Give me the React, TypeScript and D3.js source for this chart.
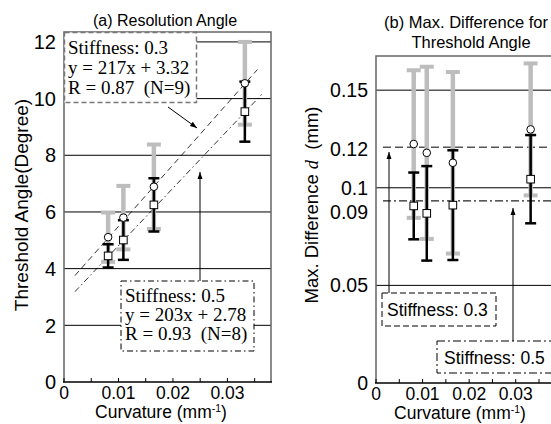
import React from 'react'
import { scaleLinear, range, mean } from 'd3'

// curvature of the four test shapes (mm^-1)
const curvature = [0.0081, 0.0109, 0.0165, 0.0332]

// (a) threshold angle, degrees
const angleMean03 = [5.11, 5.8, 6.89, 10.54]
const angleSd03 = [0.87, 1.12, 1.49, 1.46]
const angleMean05 = [4.45, 5.01, 6.25, 9.54]
const angleSd05 = [0.41, 0.7, 0.94, 1.06]

// (b) max difference d, mm
const diffMean03 = [0.1224, 0.1179, 0.1128, 0.1299]
const diffSd03 = [0.0378, 0.0441, 0.0465, 0.0338]
const diffMean05 = [0.0907, 0.0869, 0.0911, 0.1044]
const diffSd05 = [0.0171, 0.0242, 0.0281, 0.0226]

// regression fits shown in (a)
const fit03 = { slope: 217, intercept: 3.32, from: 0.002, to: 0.0355 }
const fit05 = { slope: 203, intercept: 2.78, from: 0.002, to: 0.0363 }

const angleTicks = [0, 2, 4, 6, 8, 10, 12]
const diffTicks = [0, 0.05, 0.09, 0.1, 0.12, 0.15]
const diffTickLabels = ['0', '0.05', '0.09', '0.1', '0.12', '0.15']
const diffGrid = [0.05, 0.1, 0.15]
const curvTicks = [0, 0.01, 0.02, 0.03]
const curvTickLabels = ['0', '0.01', '0.02', '0.03']

const sans = 'Arial, "Liberation Sans", Helvetica, sans-serif'
const serif = '"Times New Roman", "Liberation Serif", serif'
const GRAY = '#bdbdbd'
const NB = '\u00a0'

function ErrBar({ x, y0, y1, cap, w, color, capW }) {
  return (
    <g stroke={color}>
      <line x1={x} x2={x} y1={y0} y2={y1} strokeWidth={w} />
      <line x1={x - cap / 2} x2={x + cap / 2} y1={y0} y2={y0} strokeWidth={capW} />
      <line x1={x - cap / 2} x2={x + cap / 2} y1={y1} y2={y1} strokeWidth={capW} />
    </g>
  )
}

function Arrow({ x1, y1, x2, y2 }) {
  const a = Math.atan2(y2 - y1, x2 - x1)
  const L = 7, W = 2.5
  const p = [
    [x2, y2],
    [x2 - L * Math.cos(a) + W * Math.sin(a), y2 - L * Math.sin(a) - W * Math.cos(a)],
    [x2 - L * Math.cos(a) - W * Math.sin(a), y2 - L * Math.sin(a) + W * Math.cos(a)],
  ]
  return (
    <g>
      <line x1={x1} y1={y1} x2={x2} y2={y2} stroke="#000" strokeWidth={1} />
      <polygon points={p.map(d => d.join(',')).join(' ')} fill="#000" />
    </g>
  )
}

export default function App() {
  const width = 551
  const height = 424

  const xL = scaleLinear().domain([0, 0.038]).range([64, 271])
  const yL = scaleLinear().domain([0, 12.35]).range([382, 32])
  const xR = scaleLinear().domain([0, 0.038]).range([376, 553])
  const yR = scaleLinear().domain([0, 0.1675]).range([383, 56])

  const minorTicks = range(0, 0.0376, 0.005)
  const avg03 = mean(diffMean03)
  const avg05 = mean(diffMean05)

  return (
    <div style={{ position: 'absolute', left: 0, top: 0 }}>
      <svg width={width} height={height} style={{ display: 'block', background: '#fff' }}>
        {/* ---------- (a) ---------- */}
        <text x={165} y={26} fontFamily={sans} fontSize={16} textAnchor="middle">(a) Resolution Angle</text>
        {angleTicks.filter(t => t > 0).map(t => (
          <line key={t} x1={xL(0)} x2={xL(0.038)} y1={yL(t)} y2={yL(t)} stroke="#000" strokeWidth={1} />
        ))}
        <path d={`M${xL(0)},${yL(0)}V${yL(12.35)}H${xL(0.038)}V${yL(0)}`} fill="none" stroke="#666" strokeWidth={1.5} />
        <line x1={xL(0) - 1} x2={xL(0.038) + 1} y1={yL(0)} y2={yL(0)} stroke="#000" strokeWidth={1.5} />
        {minorTicks.map(t => (
          <line key={t} x1={xL(t)} x2={xL(t)} y1={yL(0)} y2={yL(0) - 4} stroke="#000" />
        ))}
        {angleTicks.map(t => (
          <text key={t} x={56} y={yL(t)} dy="0.36em" fontFamily={sans} fontSize={20} textAnchor="end">{t}</text>
        ))}
        {curvTicks.map((t, i) => (
          <text key={t} x={xL(t)} y={399} fontFamily={sans} fontSize={17.5} textAnchor="middle">{curvTickLabels[i]}</text>
        ))}
        <text x={161} y={418} fontFamily={sans} fontSize={17.5} textAnchor="middle">
          Curvature (mm<tspan fontSize={10.5} dy={-6}>-1</tspan><tspan dy={6}>)</tspan>
        </text>
        <text transform="translate(28,205) rotate(-90)" fontFamily={sans} fontSize={19} textAnchor="middle">Threshold Angle(Degree)</text>

        {/* fits */}
        {[fit03, fit05].map((f, i) => (
          <line key={i}
            x1={xL(f.from)} y1={yL(f.slope * f.from + f.intercept)}
            x2={xL(f.to)} y2={yL(f.slope * f.to + f.intercept)}
            stroke="#000" strokeWidth={0.8}
            strokeDasharray={i === 0 ? '6,4' : '6,3,1.5,3'} />
        ))}

        {/* error bars */}
        {curvature.map((c, i) => (
          <ErrBar key={'g' + i} x={xL(c)} y0={yL(angleMean03[i] + angleSd03[i])} y1={yL(angleMean03[i] - angleSd03[i])}
            cap={14} w={4.5} capW={4} color={GRAY} />
        ))}
        {curvature.map((c, i) => (
          <ErrBar key={'b' + i} x={xL(c)} y0={yL(angleMean05[i] + angleSd05[i])} y1={yL(angleMean05[i] - angleSd05[i])}
            cap={11} w={2.5} capW={2.5} color="#000" />
        ))}
        {curvature.map((c, i) => (
          <rect key={'s' + i} x={xL(c) - 3.8} y={yL(angleMean05[i]) - 3.8} width={7.6} height={7.6} fill="#fff" stroke="#000" strokeWidth={1} />
        ))}
        {curvature.map((c, i) => (
          <circle key={'c' + i} cx={xL(c)} cy={yL(angleMean03[i])} r={3.8} fill="#fff" stroke="#000" strokeWidth={1} />
        ))}

        {/* annotation boxes */}
        <rect x={64.5} y={32.5} width={132} height={70} fill="#fff" stroke="#777" strokeWidth={1.5} strokeDasharray="5,3" />
        <g fontFamily={serif} fontSize={19}>
          <text x={68} y={54}>Stiffness: 0.3</text>
          <text x={68} y={74}>y = 217x + 3.32</text>
          <text x={68} y={94}>{'R = 0.87 ' + NB + '(N=9)'}</text>
        </g>
        <Arrow x1={168} y1={107} x2={197} y2={128} />

        <rect x={121} y={281} width={133} height={70} fill="#fff" stroke="#000" strokeWidth={1} strokeDasharray="6,3,1.5,3" />
        <g fontFamily={serif} fontSize={19}>
          <text x={125} y={302}>Stiffness: 0.5</text>
          <text x={125} y={321}>y = 203x + 2.78</text>
          <text x={125} y={340}>{'R = 0.93 ' + NB + '(N=8)'}</text>
        </g>
        <Arrow x1={200} y1={281} x2={200} y2={172} />

        {/* ---------- (b) ---------- */}
        <text x={466} y={28} fontFamily={sans} fontSize={16.5} textAnchor="middle">(b) Max. Difference for</text>
        <text x={471} y={48} fontFamily={sans} fontSize={16.5} textAnchor="middle">Threshold Angle</text>

        {diffGrid.map(t => (
          <line key={t} x1={xR(0)} x2={width} y1={yR(t)} y2={yR(t)} stroke="#000" strokeWidth={1} />
        ))}
        <line x1={383} x2={width} y1={yR(avg03)} y2={yR(avg03)} stroke="#555" strokeWidth={1.5} strokeDasharray="8,4" />
        <line x1={383} x2={width} y1={yR(avg05)} y2={yR(avg05)} stroke="#222" strokeWidth={1.2} strokeDasharray="8,3,2,3" />
        <path d={`M${xR(0)},${yR(0)}V${yR(0.1675)}H${width}`} fill="none" stroke="#666" strokeWidth={1.5} />
        <line x1={xR(0) - 1} x2={width} y1={yR(0)} y2={yR(0)} stroke="#000" strokeWidth={1.5} />
        {minorTicks.map(t => (
          <line key={t} x1={xR(t)} x2={xR(t)} y1={yR(0)} y2={yR(0) - 4} stroke="#000" />
        ))}
        {diffTicks.map((t, i) => (
          <text key={t} x={368} y={yR(t) + (t === 0.09 ? 5 : 0)} dy="0.36em" fontFamily={sans} fontSize={19.5} textAnchor="end">{diffTickLabels[i]}</text>
        ))}
        {curvTicks.map((t, i) => (
          <text key={t} x={xR(t)} y={400} fontFamily={sans} fontSize={17.5} textAnchor="middle">{curvTickLabels[i]}</text>
        ))}
        <text x={460} y={419} fontFamily={sans} fontSize={17.5} textAnchor="middle">
          Curvature (mm<tspan fontSize={10.5} dy={-6}>-1</tspan><tspan dy={6}>)</tspan>
        </text>
        <text transform="translate(318,205) rotate(-90)" fontFamily={sans} fontSize={18.5} textAnchor="middle">
          {'Max. Difference '}<tspan fontFamily={serif} fontStyle="italic">d</tspan>{' ' + NB + '(mm)'}
        </text>

        {curvature.map((c, i) => (
          <ErrBar key={'g' + i} x={xR(c)} y0={yR(diffMean03[i] + diffSd03[i])} y1={yR(diffMean03[i] - diffSd03[i])}
            cap={14} w={4.5} capW={4} color={GRAY} />
        ))}
        {curvature.map((c, i) => (
          <ErrBar key={'b' + i} x={xR(c)} y0={yR(diffMean05[i] + diffSd05[i])} y1={yR(diffMean05[i] - diffSd05[i])}
            cap={11} w={2.5} capW={2.5} color="#000" />
        ))}
        {curvature.map((c, i) => (
          <rect key={'s' + i} x={xR(c) - 3.8} y={yR(diffMean05[i]) - 3.8} width={7.6} height={7.6} fill="#fff" stroke="#000" strokeWidth={1} />
        ))}
        {curvature.map((c, i) => (
          <circle key={'c' + i} cx={xR(c)} cy={yR(diffMean03[i])} r={3.8} fill="#fff" stroke="#000" strokeWidth={1} />
        ))}

        <rect x={382} y={293} width={114} height={33} fill="#fff" stroke="#000" strokeWidth={1} strokeDasharray="6,3" />
        <text x={387} y={316} fontFamily={sans} fontSize={17.5}>Stiffness: 0.3</text>
        <Arrow x1={389} y1={293} x2={389} y2={152} />

        <rect x={437} y={341} width={130} height={32} fill="#fff" stroke="#000" strokeWidth={1} strokeDasharray="8,3,2,3" />
        <text x={444} y={364} fontFamily={sans} fontSize={17.5}>Stiffness: 0.5</text>
        <Arrow x1={513} y1={341} x2={513} y2={208} />
      </svg>
    </div>
  )
}
